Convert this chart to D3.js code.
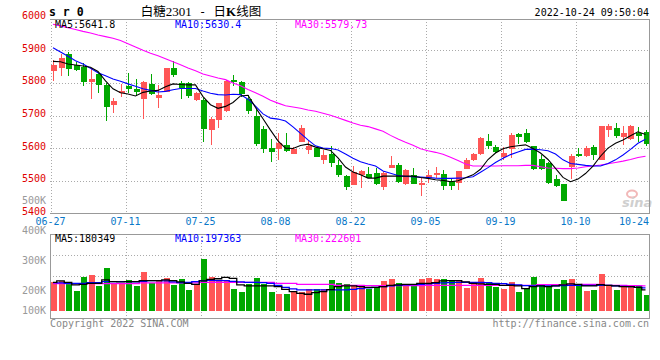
<!DOCTYPE html>
<html><head><meta charset="utf-8">
<script src="https://cdn.jsdelivr.net/npm/d3@7"></script>
<style>body{margin:0;background:#fff}svg{display:block}</style>
</head><body><svg id="c" width="660" height="360"></svg>
<script>
// ---------- data ----------
const openP  = [5838,5847,5888,5855,5848,5803,5828,5794,5732,5768,5792,5781,5752,5797,5755,5773,5846,5800,5799,5748,
                5748,5656,5686,5714,5809,5803,5750,5699,5659,5600,5597,5610,5583,5620,5595,5601,5565,5582,5548,5515,
                5486,5518,5521,5525,5482,5539,5548,5490,5518,5488,5508,5518,5520,5498,5492,5537,5562,5581,5623,5604,
                5573,5597,5643,5646,5607,5566,5555,5505,5489,5543,5582,5576,5604,5564,5654,5662,5635,5629,5647,5648];
const highP  = [5870,5889,5895,5863,5862,5845,5831,5799,5755,5796,5830,5812,5806,5828,5795,5846,5868,5806,5804,5773,
                5755,5694,5739,5809,5825,5806,5763,5719,5668,5627,5645,5646,5602,5671,5625,5604,5594,5607,5562,5518,
                5545,5533,5543,5538,5531,5576,5555,5535,5538,5507,5533,5543,5533,5507,5530,5569,5586,5635,5643,5610,
                5602,5645,5647,5659,5607,5579,5558,5518,5489,5581,5599,5605,5610,5667,5674,5678,5669,5670,5666,5656];
const lowP   = [5807,5821,5822,5835,5792,5751,5770,5684,5709,5758,5770,5761,5689,5763,5723,5771,5819,5752,5755,5743,
                5620,5610,5661,5712,5789,5756,5705,5607,5586,5558,5564,5589,5581,5620,5582,5572,5551,5541,5512,5472,
                5486,5479,5507,5487,5470,5538,5494,5488,5490,5454,5492,5507,5472,5470,5472,5535,5559,5579,5596,5584,
                5564,5569,5613,5617,5533,5533,5489,5482,5439,5504,5574,5574,5564,5564,5635,5630,5609,5625,5620,5605];
const closeP = [5855,5875,5844,5840,5804,5812,5795,5727,5745,5776,5782,5773,5803,5765,5763,5846,5825,5783,5760,5770,
                5660,5690,5737,5806,5803,5765,5715,5614,5598,5589,5617,5592,5598,5662,5607,5574,5580,5555,5516,5482,
                5528,5531,5509,5491,5525,5548,5497,5533,5490,5494,5518,5525,5485,5485,5530,5564,5583,5632,5607,5588,
                5586,5640,5635,5619,5536,5537,5492,5484,5439,5576,5577,5601,5579,5667,5667,5637,5646,5668,5637,5612];
const ma5P   = [5866,5865,5858,5855,5852,5848,5835,5806,5782,5770,5766,5760,5771,5775,5777,5788,5797,5795,5794,5794,
                5758,5733,5722,5728,5740,5760,5762,5725,5690,5655,5622,5600,5599,5608,5612,5603,5598,5593,5570,5542,
                5527,5518,5508,5508,5514,5514,5514,5514,5514,5510,5507,5503,5501,5497,5500,5509,5518,5535,5565,5585,
                5598,5604,5607,5610,5599,5585,5565,5538,5510,5497,5505,5522,5545,5575,5600,5615,5625,5638,5650,5642];
const ma10P  = [5908,5895,5882,5868,5858,5845,5831,5822,5812,5805,5797,5790,5782,5777,5772,5774,5779,5783,5783,5783,
                5775,5768,5764,5763,5765,5764,5750,5729,5705,5692,5689,5683,5665,5645,5625,5607,5600,5599,5594,5582,
                5569,5558,5551,5545,5530,5523,5516,5513,5512,5511,5510,5508,5507,5507,5508,5509,5512,5526,5540,5556,
                5569,5580,5588,5596,5597,5595,5592,5582,5564,5553,5550,5547,5545,5545,5553,5564,5579,5596,5615,5627];
const ma30P  = [5980,5975,5969,5964,5958,5953,5947,5942,5937,5930,5920,5910,5900,5891,5883,5874,5865,5856,5846,5837,
                5827,5821,5815,5810,5800,5791,5780,5770,5759,5747,5738,5730,5726,5722,5717,5713,5707,5701,5693,5685,
                5677,5670,5666,5659,5652,5639,5628,5618,5609,5598,5592,5587,5581,5572,5562,5551,5545,5545,5545,5545,
                5546,5546,5546,5547,5547,5543,5539,5538,5537,5537,5539,5543,5545,5548,5552,5556,5560,5565,5571,5575];
// volume, in thousands of lots
const vol    = [256,268,247,178,304,322,223,385,252,247,277,223,349,252,277,295,232,286,187,241,
                466,304,277,277,196,168,241,295,241,168,150,150,178,168,196,196,196,277,250,241,
                232,232,196,214,268,286,250,241,241,286,295,286,286,268,268,205,241,295,250,214,
                196,259,168,205,304,241,223,196,277,286,232,178,187,331,232,187,214,214,223,144];
const ma5V   = [256,268,256,232,238,247,247,277,262,259,262,262,271,271,271,277,271,259,247,238,
                268,283,288,300,292,232,223,223,223,223,217,193,172,157,148,163,172,190,217,223,
                223,217,211,211,217,229,232,238,238,247,247,253,268,271,271,259,247,241,238,238,
                229,229,223,199,217,223,217,223,232,241,238,223,223,235,229,223,217,217,211,187];
const ma10V  = [253,250,247,247,247,253,253,262,262,262,262,259,265,271,271,268,259,253,256,262,
                271,274,271,271,265,259,256,256,253,247,229,211,196,187,187,187,187,190,187,187,
                193,199,205,211,217,223,229,232,235,238,241,247,250,253,256,256,256,256,253,247,
                244,238,232,226,223,223,223,223,226,229,229,229,229,229,229,223,220,217,211,205];
const ma30V  = [244,244,244,244,244,244,244,244,244,244,244,244,250,250,250,250,250,250,250,250,
                256,256,256,256,256,256,256,256,256,256,247,247,247,238,238,238,238,238,229,229,
                229,229,226,226,226,226,226,226,226,226,229,229,229,229,229,229,229,229,229,229,
                229,229,229,229,229,235,235,235,232,232,232,238,238,238,229,229,229,226,226,223];
const dateLabels = ["06-27","07-11","07-25","08-08","08-22","09-05","09-19","10-10","10-24"];
const dateSlots  = [0,10,20,30,40,50,60,70,80];
const priceTicks = [6000,5900,5800,5700,5600,5500,5400];
const volTicks   = [500,400,300,200,100];
const legendP = [["MA5:5641.8","#000"],["MA10:5630.4","#0000ff"],["MA30:5579.73","#ff00ff"]];
const legendV = [["MA5:180349","#000"],["MA10:197363","#0000ff"],["MA30:222601","#ff00ff"]];

// ---------- layout ----------
const svg = d3.select("#c");
const mono = "'DejaVu Sans Mono', monospace";
const L = 50, R = 649, T = 19, B = 213;
const VT = 234, VB = 318, V0 = 310.7;
const RED = "#ff5656", GRN = "#00a800", GRID = "#aaa", AX = "#999";
const n = closeP.length;
const x = d3.scaleLinear().domain([0, n - 1]).range([53, 645.5]);
const y = d3.scaleLinear().domain([5400, 5900]).range([213.3, 50.3]);
const yv = d3.scaleLinear().domain([0, 100]).range([V0, V0 - 100 / 9.01]);
const yvl = d3.scaleLinear().domain([100, 500]).range([320.7, 200.7]).clamp(true);
const gx = s => Math.round(x(s) - 2.5) + 0.5;
const cx = i => Math.round(x(i));

const g = svg.append("g");
// main grid
g.selectAll(".hg").data(priceTicks.filter(v => v > 5400 && v < 6000)).join("line")
  .attr("x1", L).attr("x2", R).attr("y1", d => Math.round(y(d)) + 0.5).attr("y2", d => Math.round(y(d)) + 0.5)
  .attr("stroke", GRID).attr("stroke-dasharray", "1,2");
g.selectAll(".vg").data(dateSlots.slice(0, 8)).join("line")
  .attr("x1", d => gx(d)).attr("x2", d => gx(d)).attr("y1", T).attr("y2", B)
  .attr("stroke", GRID).attr("stroke-dasharray", "1,2");
// volume grid
g.selectAll(".vhg").data([0.25, 0.5]).join("line")
  .attr("x1", L).attr("x2", R).attr("y1", d => Math.round(VT + d * (VB - VT)) + 0.5).attr("y2", d => Math.round(VT + d * (VB - VT)) + 0.5)
  .attr("stroke", GRID).attr("stroke-dasharray", "1,2");
g.selectAll(".vvg").data(dateSlots.slice(1, 8)).join("line")
  .attr("x1", d => gx(d)).attr("x2", d => gx(d)).attr("y1", VT).attr("y2", VB)
  .attr("stroke", GRID).attr("stroke-dasharray", "1,2");

// watermark
const wm = svg.append("g");
wm.append("ellipse").attr("cx", 632).attr("cy", 194).attr("rx", 5).attr("ry", 3.5).attr("fill", "none").attr("stroke", "#f2b8b8").attr("stroke-width", 2);
wm.append("text").attr("x", 622).attr("y", 207).text("sina")
  .attr("font-family", "'DejaVu Sans', sans-serif").attr("font-size", 13).attr("font-weight", "bold").attr("font-style", "italic").attr("fill", "#cfcfcf");

// candles
const cg = svg.append("g").attr("shape-rendering", "crispEdges");
const idx = d3.range(n);
cg.selectAll(".wick").data(idx).join("line")
  .attr("x1", i => cx(i) + 0.5).attr("x2", i => cx(i) + 0.5)
  .attr("y1", i => y(highP[i])).attr("y2", i => y(lowP[i]))
  .attr("stroke", i => closeP[i] >= openP[i] ? RED : GRN);
cg.selectAll(".body").data(idx).join("rect")
  .attr("x", i => cx(i) - 2.5).attr("width", 6)
  .attr("y", i => y(Math.max(openP[i], closeP[i])))
  .attr("height", i => Math.max(1, Math.abs(y(openP[i]) - y(closeP[i]))))
  .attr("fill", i => closeP[i] >= openP[i] ? RED : GRN);

// price MA lines
const clip = svg.append("clipPath").attr("id", "pc").append("rect").attr("x", L).attr("y", T).attr("width", R - L).attr("height", B - T);
const pl = d3.line().x((d, i) => x(i)).y(d => y(d));
[[ma30P, "#ff00ff"], [ma10P, "#0000ff"], [ma5P, "#000"]].forEach(([arr, c]) => {
  svg.append("path").attr("d", pl(arr)).attr("fill", "none").attr("stroke", c).attr("stroke-width", 1.1).attr("clip-path", "url(#pc)");
});

// volume bars
const vg = svg.append("g").attr("shape-rendering", "crispEdges");
vg.selectAll("rect").data(idx).join("rect")
  .attr("x", i => cx(i) - 2.5).attr("width", 6)
  .attr("y", i => yv(vol[i])).attr("height", i => V0 - yv(vol[i]))
  .attr("fill", i => closeP[i] >= openP[i] ? RED : GRN);
const vl = d3.line().x((d, i) => x(i)).y(d => yv(d)).curve(d3.curveStep);
[[ma30V, "#ff00ff"], [ma10V, "#0000ff"], [ma5V, "#000"]].forEach(([arr, c]) => {
  svg.append("path").attr("d", vl(arr)).attr("fill", "none").attr("stroke", c).attr("stroke-width", 1.3);
});

// borders
const bd = svg.append("g").attr("stroke", AX).attr("shape-rendering", "crispEdges").attr("stroke-width", 1);
bd.append("line").attr("x1", L).attr("x2", R + 1).attr("y1", T + 0.5).attr("y2", T + 0.5);
bd.append("line").attr("x1", R + 0.5).attr("x2", R + 0.5).attr("y1", T).attr("y2", B + 1);
bd.append("line").attr("x1", L).attr("x2", R + 1).attr("y1", B + 0.5).attr("y2", B + 0.5).attr("stroke-width", 1.5);
bd.append("line").attr("x1", L).attr("x2", R + 1).attr("y1", VT + 0.5).attr("y2", VT + 0.5);
bd.append("line").attr("x1", L).attr("x2", R + 1).attr("y1", VB + 0.5).attr("y2", VB + 0.5).attr("stroke-width", 1.5);
bd.append("line").attr("x1", R + 0.5).attr("x2", R + 0.5).attr("y1", VT).attr("y2", VB);
bd.append("line").attr("x1", L + 0.5).attr("x2", L + 0.5).attr("y1", VT).attr("y2", VB);

// texts
const txt = (sx, sy, s, opt = {}) => svg.append("text").attr("x", sx).attr("y", sy).text(s)
  .attr("font-family", opt.font || mono).attr("font-size", opt.size || 10)
  .attr("fill", opt.fill || "#000").attr("text-anchor", opt.anchor || "start")
  .attr("font-weight", opt.weight || "normal");

// price labels
priceTicks.forEach(v => txt(46, y(v) + 1.5, String(v), { fill: "#e00000", anchor: "end" }));
// volume labels
volTicks.forEach(v => txt(46, Math.min(yvl(v), V0) + 3.5, v + "K", { fill: "#999", anchor: "end" }));
// date labels
dateLabels.forEach((s, k) => {
  const last = k === dateLabels.length - 1;
  txt(last ? R : gx(dateSlots[k]) - 1, 225.2, s, { fill: "#0a78c8", anchor: last ? "end" : "middle" });
});
// legends
const lx = [55, 175, 295];
legendP.forEach(([s, c], k) => txt(lx[k], 27.6, s, { fill: c }));
legendV.forEach(([s, c], k) => txt(lx[k], 241.8, s, { fill: c }));
// header
txt(49, 16, "s r 0", { size: 11.5, weight: "bold" });
const tt = svg.append("text").attr("x", 201).attr("y", 15.5).attr("text-anchor", "middle")
  .attr("font-family", "'Noto Sans CJK SC', sans-serif").attr("font-size", 12.5).attr("fill", "#000");
tt.append("tspan").text("白糖");
tt.append("tspan").text("2301").attr("font-family", "'Liberation Serif', serif").attr("font-size", 13);
tt.append("tspan").text(" - ").attr("font-family", mono).attr("font-size", 12);
tt.append("tspan").text("日");
tt.append("tspan").text("K").attr("font-family", "'Liberation Serif', serif").attr("font-weight", "bold").attr("font-size", 13);
tt.append("tspan").text("线图");
txt(R, 15.5, "2022-10-24 09:50:04", { anchor: "end" });
// footer
txt(L, 327, "Copyright 2022 SINA.COM", { fill: "#888" });
txt(R, 327, "http://finance.sina.com.cn", { fill: "#888", anchor: "end" });
</script>
</body></html>
